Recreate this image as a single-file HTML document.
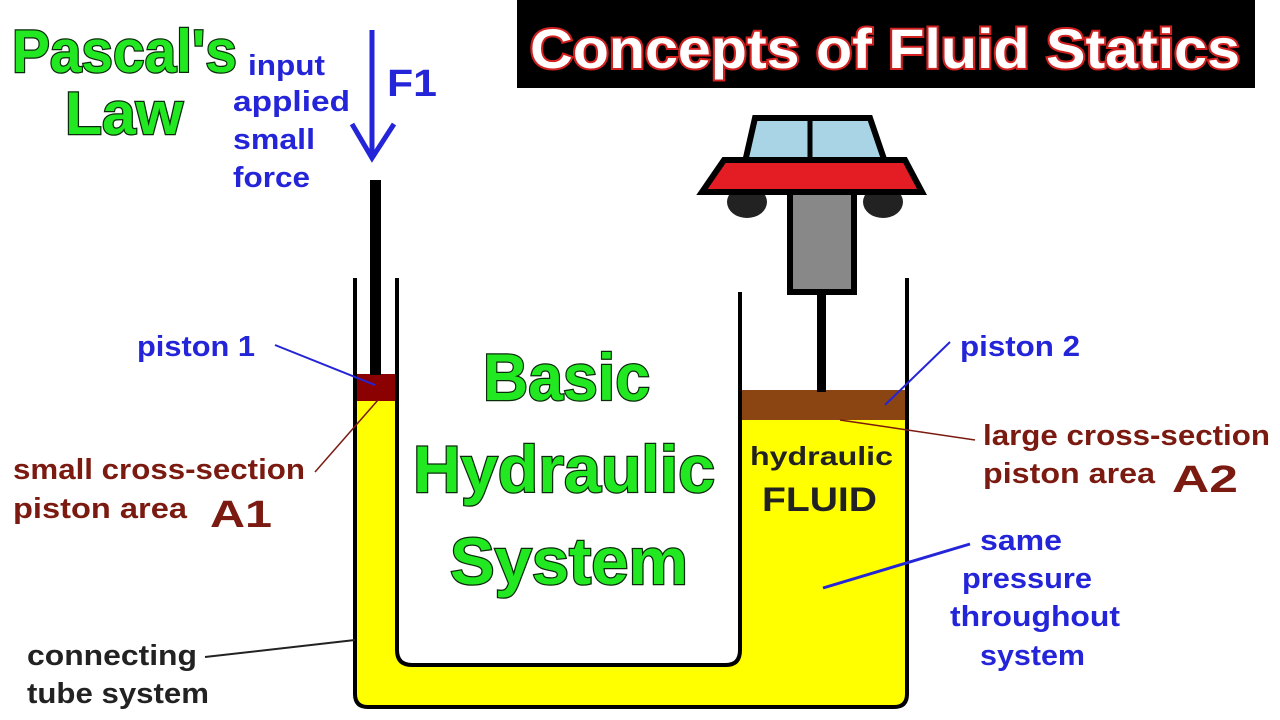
<!DOCTYPE html>
<html><head><meta charset="utf-8"><style>
html,body{margin:0;padding:0;background:#fff;width:1280px;height:720px;overflow:hidden}
svg{display:block}
.g{font-family:"Liberation Sans",sans-serif;font-weight:bold;fill:#22e822;stroke:#0a2a0a;stroke-width:2.5;paint-order:stroke}
.b{font-family:"Liberation Sans",sans-serif;font-weight:bold;fill:#2424d8}
.r{font-family:"Liberation Sans",sans-serif;font-weight:bold;fill:#7a1a10}
.k{font-family:"Liberation Sans",sans-serif;font-weight:bold;fill:#222}
</style></head><body>
<svg width="1280" height="720" viewBox="0 0 1280 720">
<path d="M357 400 H396 V650 Q396 666 412 666 H726 Q740 666 740 650 V420 H905 V694 Q905 705 894 705 H368 Q357 705 357 694 Z" fill="#ffff00"/>
<rect x="357" y="374" width="39" height="27" fill="#8b0000"/>
<rect x="742" y="390" width="163" height="30" fill="#8b4513"/>
<path d="M355 278 V694 Q355 707 368 707 H894 Q907 707 907 694 V278" fill="none" stroke="#000" stroke-width="4"/>
<path d="M397 278 V650 Q397 665 412 665 H726 Q740 665 740 650 V292" fill="none" stroke="#000" stroke-width="4"/>
<rect x="370" y="180" width="11" height="195" fill="#000"/>
<rect x="817" y="290" width="9" height="102" fill="#000"/>
<rect x="620" y="92" width="242" height="200" fill="#fff"/>
<rect x="790" y="190" width="64" height="102" fill="#888" stroke="#000" stroke-width="6"/>
<path d="M755 118 H870 L885 162 H745 Z" fill="#a8d4e6" stroke="#000" stroke-width="6"/>
<line x1="810" y1="118" x2="810" y2="162" stroke="#000" stroke-width="5"/>
<ellipse cx="747" cy="202" rx="20" ry="16" fill="#222"/>
<ellipse cx="883" cy="202" rx="20" ry="16" fill="#222"/>
<path d="M724 160 H905 L922 192 H702 Z" fill="#e41c24" stroke="#000" stroke-width="6"/>
<rect x="517" y="0" width="738" height="88" fill="#000"/>
<text x="530" y="68" textLength="710" lengthAdjust="spacingAndGlyphs" font-family="Liberation Sans,sans-serif" font-weight="bold" font-size="56" fill="#fff" stroke="#d02020" stroke-width="4" paint-order="stroke">Concepts of Fluid Statics</text>
<text class="g" x="12" y="72" textLength="225" lengthAdjust="spacingAndGlyphs" font-size="60">Pascal's</text>
<text class="g" x="65" y="134" textLength="118" lengthAdjust="spacingAndGlyphs" font-size="60">Law</text>
<text class="g" x="483" y="400" textLength="167" lengthAdjust="spacingAndGlyphs" font-size="66">Basic</text>
<text class="g" x="413" y="492" textLength="302" lengthAdjust="spacingAndGlyphs" font-size="66">Hydraulic</text>
<text class="g" x="450" y="584" textLength="238" lengthAdjust="spacingAndGlyphs" font-size="66">System</text>
<g class="b" font-size="29" lengthAdjust="spacingAndGlyphs">
<text x="248" y="75" textLength="77" lengthAdjust="spacingAndGlyphs">input</text>
<text x="233" y="111" textLength="117" lengthAdjust="spacingAndGlyphs">applied</text>
<text x="233" y="149" textLength="82" lengthAdjust="spacingAndGlyphs">small</text>
<text x="233" y="187" textLength="77" lengthAdjust="spacingAndGlyphs">force</text>
<text x="387" y="96" font-size="38" textLength="50" lengthAdjust="spacingAndGlyphs">F1</text>
<text x="137" y="356" textLength="118" lengthAdjust="spacingAndGlyphs">piston 1</text>
<text x="960" y="356" textLength="120" lengthAdjust="spacingAndGlyphs">piston 2</text>
<text x="980" y="550" textLength="82" lengthAdjust="spacingAndGlyphs">same</text>
<text x="962" y="588" textLength="130" lengthAdjust="spacingAndGlyphs">pressure</text>
<text x="950" y="626" textLength="170" lengthAdjust="spacingAndGlyphs">throughout</text>
<text x="980" y="665" textLength="105" lengthAdjust="spacingAndGlyphs">system</text>
</g>
<path d="M372 30 V155 M352 124 L372 158 L394 124" fill="none" stroke="#2424d8" stroke-width="5"/>
<line x1="275" y1="345" x2="375" y2="385" stroke="#2424d8" stroke-width="2"/>
<line x1="950" y1="342" x2="885" y2="405" stroke="#2424d8" stroke-width="2"/>
<line x1="970" y1="544" x2="823" y2="588" stroke="#2424d8" stroke-width="3"/>
<g class="r" font-size="29">
<text x="13" y="479" textLength="292" lengthAdjust="spacingAndGlyphs">small cross-section</text>
<text x="13" y="518" textLength="174" lengthAdjust="spacingAndGlyphs">piston area</text>
<text x="210" y="527" font-size="38" textLength="62" lengthAdjust="spacingAndGlyphs">A1</text>
<text x="983" y="445" textLength="287" lengthAdjust="spacingAndGlyphs">large cross-section</text>
<text x="983" y="483" textLength="172" lengthAdjust="spacingAndGlyphs">piston area</text>
<text x="1172" y="492" font-size="38" textLength="66" lengthAdjust="spacingAndGlyphs">A2</text>
</g>
<line x1="315" y1="472" x2="378" y2="400" stroke="#7a1a10" stroke-width="1.5"/>
<line x1="975" y1="440" x2="840" y2="420" stroke="#7a1a10" stroke-width="1.5"/>
<g class="k" font-size="29">
<text x="27" y="665" textLength="170" lengthAdjust="spacingAndGlyphs">connecting</text>
<text x="27" y="703" textLength="182" lengthAdjust="spacingAndGlyphs">tube system</text>
<text x="750" y="465" font-size="26" textLength="143" lengthAdjust="spacingAndGlyphs">hydraulic</text>
<text x="762" y="511" font-size="34" textLength="115" lengthAdjust="spacingAndGlyphs">FLUID</text>
</g>
<line x1="205" y1="657" x2="355" y2="640" stroke="#222" stroke-width="2"/>
</svg>
</body></html>
